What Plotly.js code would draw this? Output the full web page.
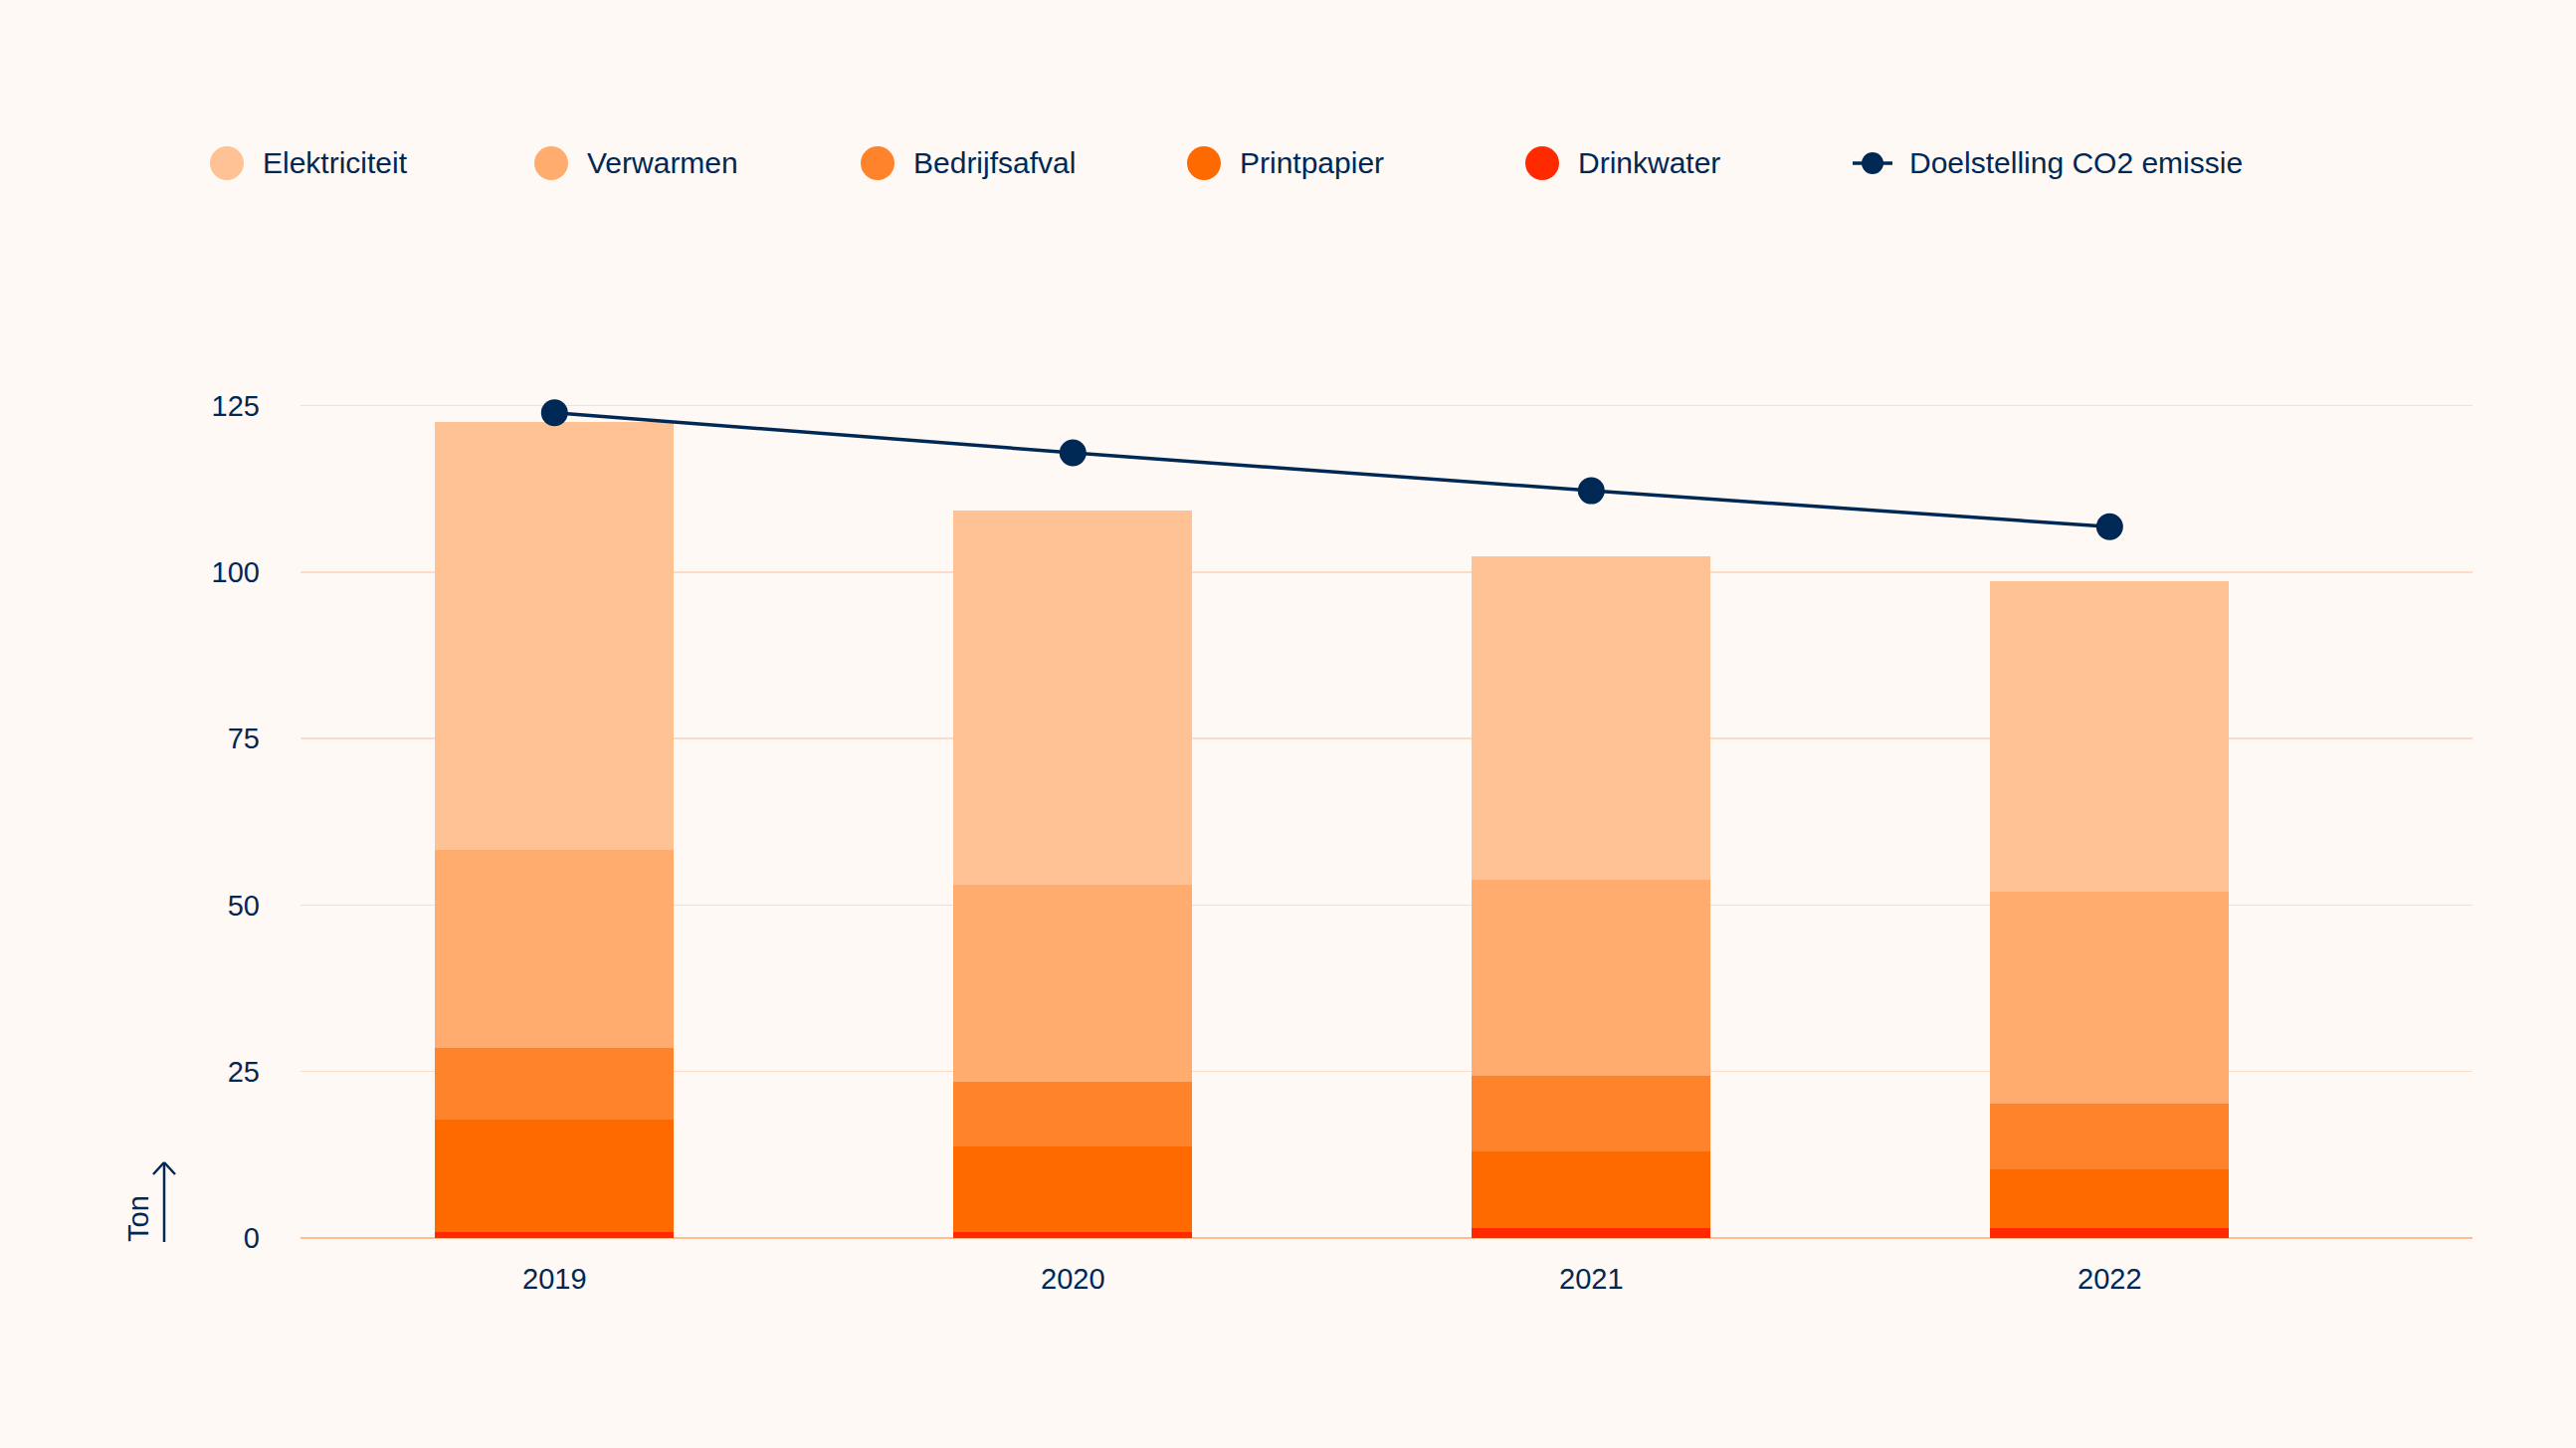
<!DOCTYPE html>
<html>
<head>
<meta charset="utf-8">
<script src="https://cdn.plot.ly/plotly-3.0.1.min.js"></script>
<style>
  html, body { margin: 0; padding: 0; background: #FFF9F5; }
  #chart { width: 2589px; height: 1455px; }
</style>
</head>
<body>
<div id="chart"></div>
<script>
// ---- data ----
const years = ['2019', '2020', '2021', '2022'];
const seriesNames = ['Elektriciteit', 'Verwarmen', 'Bedrijfsafval', 'Printpapier', 'Drinkwater'];
const drinkwater = [0.9, 0.9, 1.5, 1.5];
const printpapier = [16.9, 12.8, 11.5, 8.8];
const bedrijfsafval = [10.7, 9.7, 11.3, 9.8];
const verwarmen = [29.8, 29.6, 29.5, 31.9];
const elektriciteit = [64.3, 56.3, 48.5, 46.6];
const doelstellingName = 'Doelstelling CO2 emissie';
const doelstelling = [123.9, 117.9, 112.2, 106.8];
const yTicks = [0, 25, 50, 75, 100, 125];

// ---- style ----
const navy = '#002855';
const colors = {
  'Elektriciteit': '#FFC294',
  'Verwarmen': '#FFAC6E',
  'Bedrijfsafval': '#FF832B',
  'Printpapier': '#FF6A00',
  'Drinkwater': '#FF2A00'
};
const font = 'Liberation Sans, Arial, sans-serif';
const FIG_W = 2589, FIG_H = 1455;
const M = { l: 302, r: 104, t: 374, b: 211 };
const PW = FIG_W - M.l - M.r, PH = FIG_H - M.t - M.b;
const px2x = px => (px - M.l) / PW;
const py2y = py => (FIG_H - M.b - py) / PH;

const values = {
  'Drinkwater': drinkwater,
  'Printpapier': printpapier,
  'Bedrijfsafval': bedrijfsafval,
  'Verwarmen': verwarmen,
  'Elektriciteit': elektriciteit
};
const stackOrder = ['Drinkwater', 'Printpapier', 'Bedrijfsafval', 'Verwarmen', 'Elektriciteit'];

const traces = stackOrder.map(name => ({
  type: 'bar',
  name: name,
  x: years,
  y: values[name],
  width: 0.46,
  marker: { color: colors[name], line: { width: 0 } },
  showlegend: false,
  hoverinfo: 'x+y+name'
}));
traces.push({
  type: 'scatter',
  mode: 'lines+markers',
  name: doelstellingName,
  x: years,
  y: doelstelling,
  line: { color: navy, width: 3.5 },
  marker: { color: navy, size: 27 },
  showlegend: false
});

// ---- custom legend ----
const legendCX = [228, 554, 882, 1210, 1550, 1882];
const legendCY = 164;
const legendFont = 30;
const shapes = [];
const annotations = [];
seriesNames.forEach((name, i) => {
  shapes.push({
    type: 'circle', xref: 'paper', yref: 'paper',
    xsizemode: 'pixel', ysizemode: 'pixel',
    xanchor: px2x(legendCX[i]), yanchor: py2y(legendCY),
    x0: -17, x1: 17, y0: -17, y1: 17,
    fillcolor: colors[name], line: { width: 0 }
  });
  annotations.push({
    xref: 'paper', yref: 'paper', showarrow: false,
    x: px2x(legendCX[i] + 34), y: py2y(legendCY),
    xanchor: 'left', yanchor: 'middle',
    text: name, font: { family: font, size: legendFont, color: navy }
  });
});
const lcx = legendCX[5];
shapes.push({
  type: 'line', xref: 'paper', yref: 'paper',
  x0: px2x(lcx - 20), x1: px2x(lcx + 20), y0: py2y(legendCY), y1: py2y(legendCY),
  line: { color: navy, width: 3.5 }
});
shapes.push({
  type: 'circle', xref: 'paper', yref: 'paper',
  xsizemode: 'pixel', ysizemode: 'pixel',
  xanchor: px2x(lcx), yanchor: py2y(legendCY),
  x0: -11, x1: 11, y0: -11, y1: 11,
  fillcolor: navy, line: { width: 0 }
});
annotations.push({
  xref: 'paper', yref: 'paper', showarrow: false,
  x: px2x(lcx + 35), y: py2y(legendCY),
  xanchor: 'left', yanchor: 'middle',
  text: doelstellingName, font: { family: font, size: legendFont, color: navy }
});

// ---- "Ton" axis label with arrow ----
annotations.push({
  xref: 'paper', yref: 'paper', showarrow: false,
  x: px2x(139), y: py2y(1225), xanchor: 'center', yanchor: 'middle',
  textangle: -90, text: 'Ton', font: { family: font, size: 29, color: navy }
});
const ax = 165;
shapes.push({ type: 'line', xref: 'paper', yref: 'paper',
  x0: px2x(ax), x1: px2x(ax), y0: py2y(1248), y1: py2y(1168),
  line: { color: navy, width: 2.5 } });
shapes.push({ type: 'line', xref: 'paper', yref: 'paper',
  x0: px2x(154), x1: px2x(ax), y0: py2y(1180), y1: py2y(1168),
  line: { color: navy, width: 2.5 } });
shapes.push({ type: 'line', xref: 'paper', yref: 'paper',
  x0: px2x(176), x1: px2x(ax), y0: py2y(1180), y1: py2y(1168),
  line: { color: navy, width: 2.5 } });

const layout = {
  width: FIG_W, height: FIG_H,
  margin: M,
  paper_bgcolor: '#FFF9F5',
  plot_bgcolor: '#FFF9F5',
  barmode: 'stack',
  showlegend: false,
  font: { family: font, size: 29, color: navy },
  xaxis: {
    type: 'category',
    range: [-0.49, 3.70],
    showgrid: false, showline: false, zeroline: false,
    ticks: '', ticklabelstandoff: 21,
    tickfont: { family: font, size: 29, color: navy },
    fixedrange: true
  },
  yaxis: {
    range: [0, 130],
    tickvals: yTicks,
    ticktext: yTicks.map(String),
    showgrid: true, gridcolor: '#FCDCC8', gridwidth: 1.5,
    zeroline: true, zerolinecolor: '#FFBC90', zerolinewidth: 2,
    showline: false, ticks: '', ticklabelstandoff: 40,
    tickfont: { family: font, size: 29, color: navy },
    fixedrange: true
  },
  shapes: shapes,
  annotations: annotations
};

Plotly.newPlot('chart', traces, layout, { displayModeBar: false, staticPlot: true });
</script>
</body>
</html>
